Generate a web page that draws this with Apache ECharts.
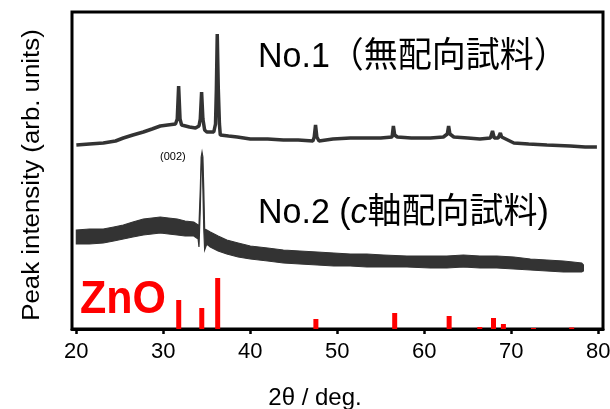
<!DOCTYPE html>
<html>
<head>
<meta charset="utf-8">
<script src="https://cdn.jsdelivr.net/npm/echarts@6/dist/echarts.min.js"></script>
<style>html,body{margin:0;padding:0;background:#fff}#c{width:610px;height:409px}</style>
</head>
<body>
<div id="c"></div>
<script>
// ---- data (2θ in degrees, intensity in arbitrary units) ----
var xTicks = [20, 30, 40, 50, 60, 70, 80];

// No.1 (non-oriented sample)
var x1 = [20.0, 21.5, 23.1, 24.5, 25.4, 26.5, 27.7, 28.7, 29.65, 30.5, 31.4, 31.6, 31.76, 31.92, 32.1, 32.3, 33.0, 33.7, 34.1, 34.25, 34.4, 34.55, 34.75, 35.0, 35.8, 36.0, 36.1, 36.2, 36.32, 36.45, 36.55, 37.5, 38.5, 40.0, 42.0, 43.8, 45.5, 47.2, 47.35, 47.5, 47.65, 47.9, 49.5, 51.5, 53.5, 55.0, 56.3, 56.45, 56.6, 56.9, 58.5, 60.7, 62.2, 62.65, 62.8, 62.95, 63.4, 65.0, 66.4, 67.6, 67.85, 68.05, 68.5, 68.75, 68.9, 69.1, 70.3, 72.0, 74.1, 76.8, 78.5, 79.85];
var y1 = [184, 185, 186, 188, 191, 194, 197, 200, 203, 204, 205, 210, 243, 210, 204, 203, 202, 201, 203, 210, 237, 210, 199, 197, 197, 205, 240, 295, 240, 205, 194, 193, 192, 190, 190, 189, 189, 188, 192, 204, 192, 188, 190, 191, 191, 191, 192, 203, 194, 192, 191, 191, 192, 195, 203, 195, 192, 191, 190, 191, 198, 191, 191, 196, 192, 190, 186, 185, 184, 183, 182, 182];

// No.2 (c-axis oriented sample): lower / upper edge of the noisy trace
var x2 = [20.0, 21.5, 23.1, 24.3, 25.4, 26.5, 27.7, 28.7, 29.65, 30.6, 31.6, 32.5, 33.5, 34.0, 34.1, 34.25, 34.35, 34.45, 34.55, 34.65, 34.75, 35.0, 35.4, 36.3, 37.3, 38.6, 40.0, 42.0, 43.8, 45.7, 47.7, 49.6, 51.5, 53.4, 55.3, 58.0, 60.7, 62.6, 64.5, 66.4, 68.35, 70.3, 72.2, 74.1, 76.0, 77.1, 78.1, 78.3];
var lower2 = [85, 85, 86, 88, 90, 92, 94, 95, 96, 95, 94, 93, 93, 90, 82, 120, 160, 172, 140, 100, 79, 85, 82, 78, 75, 72, 70, 68, 66, 65, 64, 63, 63, 62, 62, 62, 61, 61, 62, 61, 61, 60, 59, 58, 57, 57, 57, 58];
var upper2 = [99, 100, 100, 102, 104, 107, 110, 111, 112, 111, 110, 108, 107, 104, 104, 140, 172, 177, 172, 140, 100, 99, 97, 93, 89, 86, 83, 81, 79, 78, 77, 76, 75, 75, 74, 73, 73, 73, 74, 73, 73, 72, 70, 69, 68, 67, 66, 64];

// ZnO reference pattern
var refPos = [31.77, 34.42, 36.25, 47.54, 56.60, 62.86, 66.38, 67.96, 69.10, 72.56, 76.95];
var refInt = [29, 21, 51, 10, 16, 13, 2, 11, 5, 1, 1.5];

// ---- chart ----
var trace1 = x1.map(function (v, i) { return [v, y1[i]]; });
var refData = refPos.map(function (v, i) { return [v, refInt[i]]; });
var FONT = '"Liberation Sans", Arial, "Noto Sans CJK JP", sans-serif';

var chart = echarts.init(document.getElementById('c'), null, { renderer: 'canvas' });
chart.setOption({
  animation: false,
  backgroundColor: '#fff',
  grid: { left: 72, right: 7, top: 12, bottom: 80, containLabel: false, outerBoundsMode: 'none', show: true, borderColor: '#000', borderWidth: 3, backgroundColor: 'transparent' },
  xAxis: {
    type: 'value', min: 19.5, max: 80.55,
    axisLine: { show: true, onZero: false, lineStyle: { color: '#000', width: 3 } },
    axisTick: { show: true, customValues: xTicks, length: 5, inside: false, lineStyle: { color: '#000', width: 2.5 } },
    axisLabel: { show: true, customValues: xTicks, margin: 12, color: '#000', fontSize: 22, fontFamily: FONT },
    splitLine: { show: false }
  },
  yAxis: {
    type: 'value', min: 0, max: 317,
    axisLine: { show: false }, axisTick: { show: false }, axisLabel: { show: false }, splitLine: { show: false }
  },
  series: [
    {
      type: 'line', data: trace1, showSymbol: false, symbol: 'none', smooth: false,
      lineStyle: { color: '#333', width: 3.5 }, z: 3
    },
    {
      type: 'custom', data: [[50, 100]], z: 3,
      renderItem: function (params, api) {
        var pts = [];
        for (var i = 0; i < x2.length; i++) pts.push(api.coord([x2[i], upper2[i]]));
        for (var j = x2.length - 1; j >= 0; j--) pts.push(api.coord([x2[j], lower2[j]]));
        return { type: 'polygon', shape: { points: pts }, style: { fill: '#333', stroke: '#333', lineWidth: 1.2 } };
      }
    },
    {
      type: 'bar', data: refData, barWidth: 5, itemStyle: { color: '#ff0000' }, z: 4
    }
  ],
  graphic: [
    { type: 'text', x: 258, y: 57.5, scaleY: 1.04, z: 10, style: { text: 'No.1（無配向試料）', font: '34px ' + FONT, fill: '#000', verticalAlign: 'middle' } },
    { type: 'text', x: 258, y: 213, scaleY: 1.04, z: 10, style: {
        text: '{a|No.2 (}{i|c}{a|軸配向試料)}', verticalAlign: 'middle',
        rich: {
          a: { fontSize: 34, fontFamily: FONT, fill: '#000', color: '#000' },
          i: { fontSize: 34, fontFamily: FONT, fontStyle: 'italic', fill: '#000', color: '#000' }
        } } },
    { type: 'text', left: 160, top: 151, z: 10, style: { text: '(002)', font: '11px ' + FONT, fill: '#000' } },
    { type: 'text', x: 80, y: 300, scaleY: 1.07, z: 10, style: { text: 'ZnO', font: 'bold 43px ' + FONT, fill: '#ff0000', verticalAlign: 'middle' } },
    { type: 'text', x: 315, y: 398, z: 10, style: { text: '2θ / deg.', font: '24px ' + FONT, fill: '#000', align: 'center', verticalAlign: 'middle' } },
    { type: 'text', x: 33, y: 175, rotation: Math.PI / 2, scaleX: 1.1, z: 10, style: { text: 'Peak intensity (arb. units)', font: '23.5px ' + FONT, fill: '#000', align: 'center', verticalAlign: 'middle' } }
  ]
});
</script>
</body>
</html>
